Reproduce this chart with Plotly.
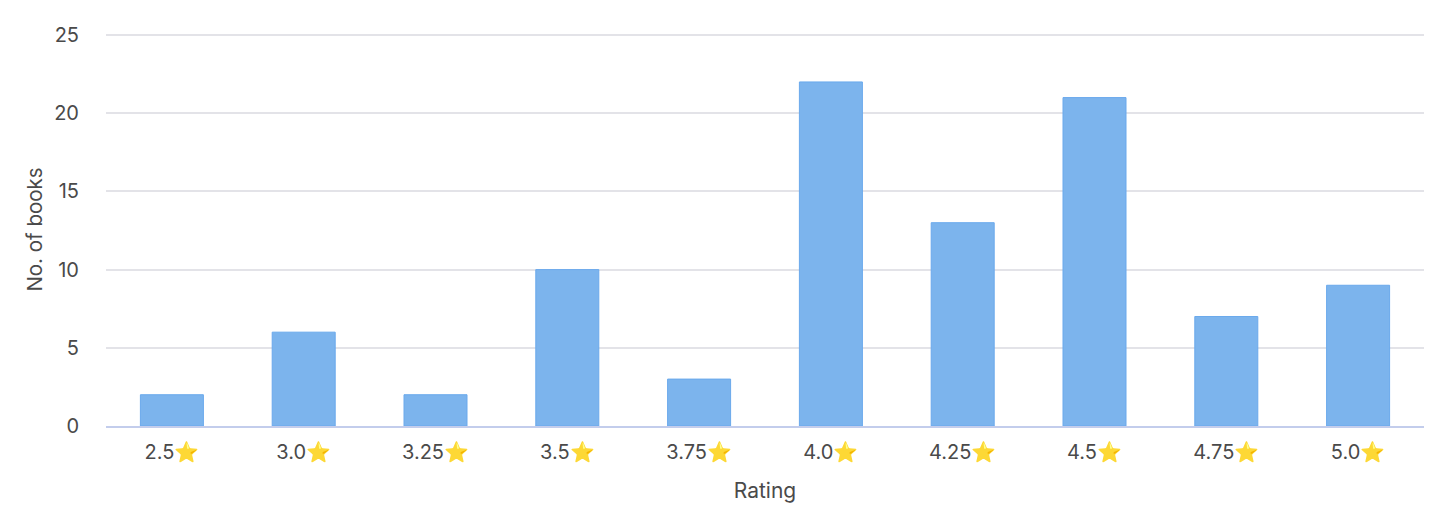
import plotly.graph_objects as go

categories = ["2.5⭐", "3.0⭐", "3.25⭐", "3.5⭐", "3.75⭐", "4.0⭐", "4.25⭐", "4.5⭐", "4.75⭐", "5.0⭐"]
values = [2, 6, 2, 10, 3, 22, 13, 21, 7, 9]
tick_values = [0, 5, 10, 15, 20, 25]

fig = go.Figure(go.Bar(
    x=categories, y=values, width=0.478,
    marker=dict(color="#7cb4ed", line=dict(color="#6aa9ec", width=1)),
))
fig.update_layout(
    width=1440, height=502, margin=dict(l=98, r=24, t=25, b=84, autoexpand=False),
    paper_bgcolor="white", plot_bgcolor="white", showlegend=False,
    font=dict(family="Inter, 'Noto Sans', sans-serif", size=20, color="#4a4a4a"),
)
fig.update_xaxes(title=dict(text="Rating", standoff=21, font=dict(size=21)),
                 showgrid=False, showline=True, linecolor="#c3cdec", linewidth=1.5, ticks="",
                 tickfont=dict(size=20), ticklabelstandoff=7)
fig.update_yaxes(title=dict(text="No. of books", standoff=5, font=dict(size=20.5)),
                 range=[0, 25.13], tickvals=tick_values, gridcolor="#e3e3e8", gridwidth=1.5,
                 zeroline=False, ticks="", ticklabelstandoff=26, tickfont=dict(size=20))
fig.write_html("out.html")
